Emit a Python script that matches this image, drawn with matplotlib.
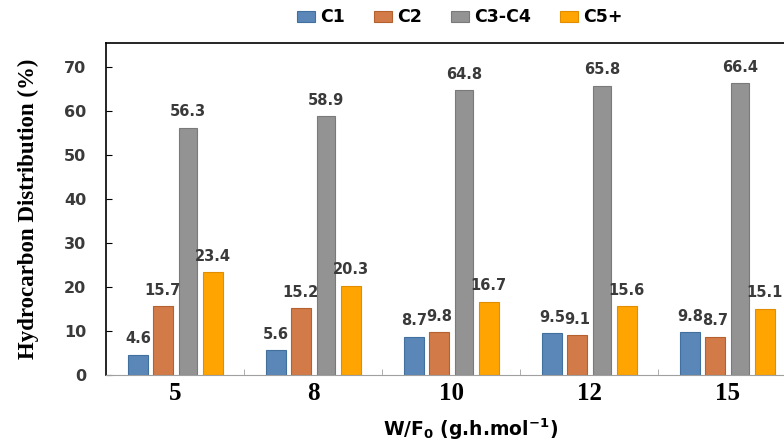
import numpy as np
import matplotlib
matplotlib.use("Agg")
import matplotlib.pyplot as plt
from matplotlib.ticker import FixedLocator

# data
wf = ["5", "8", "10", "12", "15"]
series = ["C1", "C2", "C3-C4", "C5+"]
c1 = [4.6, 5.6, 8.7, 9.5, 9.8]
c2 = [15.7, 15.2, 9.8, 9.1, 8.7]
c34 = [56.3, 58.9, 64.8, 65.8, 66.4]
c5 = [23.4, 20.3, 16.7, 15.6, 15.1]

colors = ["#5B87B8", "#D27A48", "#939393", "#FFA400"]
edges = ["#41709F", "#B5602F", "#7A7A7A", "#E08E00"]
sans = "DejaVu Sans"; serif = "Liberation Serif"
txtc = "#3A3A3A"

fig = plt.figure(figsize=(7.84, 4.43), dpi=100)
ax = fig.add_axes([0.135, 0.1535, 0.865, 0.749])

x = np.arange(len(wf))
pitch, w = 0.181, 0.14
for i, (name, vals) in enumerate(zip(series, [c1, c2, c34, c5])):
    bw = w if i != 2 else 0.125
    xs = x + (i - 1.5) * pitch
    ax.bar(xs, vals, bw, color=colors[i], edgecolor=edges[i], lw=0.8, label=name)
    for xi, v in zip(xs, vals):
        ax.annotate(f"{v:g}", (xi, v), xytext=(0, 6), textcoords="offset points",
                    ha="center", va="bottom", fontsize=10.5, fontweight="bold",
                    color=txtc, family=sans)

ax.set_xlim(-0.504, 4.41)
ax.set_ylim(0, 75.5)
ax.set_yticks(range(0, 80, 10))
ax.set_xticks(x)
ax.set_xticklabels(wf, fontsize=18, fontweight="bold", family=serif)
ax.xaxis.set_minor_locator(FixedLocator(x[:-1] + 0.5))
ax.tick_params(axis="x", which="major", length=0, pad=5)
ax.tick_params(axis="x", which="minor", direction="in", length=4, color="#A0A0A0")
ax.tick_params(axis="y", direction="in", length=4, pad=14)
for lab in ax.get_yticklabels():
    lab.set_fontweight("bold"); lab.set_family(sans); lab.set_fontsize(11.5); lab.set_color(txtc)

ax.spines["right"].set_visible(False)
ax.spines["bottom"].set_color("#A0A0A0")
ax.spines["left"].set_linewidth(1.2)
ax.spines["top"].set_linewidth(1.2)

ax.set_ylabel("Hydrocarbon Distribution (%)", fontsize=16.5, fontweight="bold",
              family=serif, labelpad=18)
ax.set_xlabel(r"W/F$_\mathbf{0}$ (g.h.mol$^\mathbf{-1}$)", fontsize=13.5, fontweight="bold",
              family=sans)
ax.xaxis.label.set_va("center")
ax.xaxis.set_label_coords(0.538, -0.163)

ax.legend(loc="center", bbox_to_anchor=(0.522, 1.078), ncol=4, frameon=False,
          handlelength=1.0, handleheight=0.6, handletextpad=0.3, columnspacing=1.7,
          prop={"family": sans, "weight": "bold", "size": 12.5})

fig.savefig("out.png", dpi=100)
